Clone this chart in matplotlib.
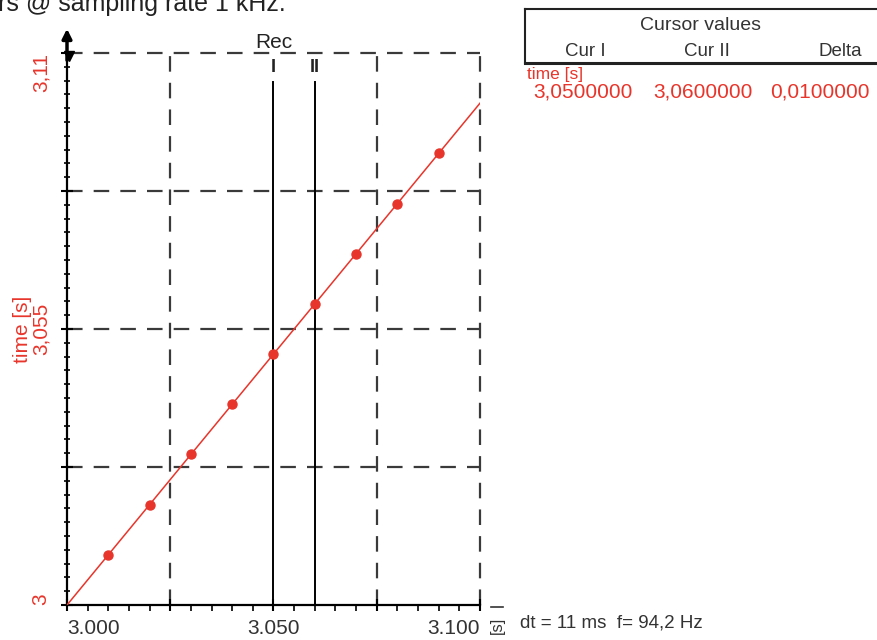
import matplotlib
matplotlib.use("Agg")
import matplotlib.pyplot as plt
from matplotlib.lines import Line2D
import numpy as np

plt.rcParams['font.family'] = ['Liberation Sans', 'DejaVu Sans']

# ---- data ----
t_x = [3.000, 3.010, 3.020, 3.030, 3.040, 3.050, 3.060, 3.070, 3.080, 3.090, 3.100]
t_y = [3.000, 3.010, 3.020, 3.030, 3.040, 3.050, 3.060, 3.070, 3.080, 3.090, 3.100]
cursor_x = [3.050, 3.060]
cursor_names = ["I", "II"]
x_ticks = [3.000, 3.025, 3.050, 3.075, 3.100]
x_ticklabels = ["3.000", "", "3.050", "", "3.100"]
y_ticks = [3.0, 3.0275, 3.055, 3.0825, 3.11]
y_ticklabels = ["3", "", "3,055", "", "3,11"]
x_grid = [3.025, 3.075, 3.100]
y_grid = [3.0275, 3.055, 3.0825, 3.11]
table_header = ["Cur I", "Cur II", "Delta"]
table_values = ["3,0500000", "3,0600000", "0,0100000"]

RED = '#e8352b'
W, H = 877, 640

fig = plt.figure(figsize=(W / 100, H / 100), dpi=100)
ax = fig.add_axes([67 / W, (H - 605) / H, (480 - 67) / W, (605 - 53) / H])
ax.set_xlim(3.0, 3.1)
ax.set_ylim(3.0, 3.11)

# grid (dashed)
for gx in x_grid:
    ax.axvline(gx, color='#3a3a3a', lw=1.6, dashes=(7, 5), clip_on=False, zorder=1)
for gy in y_grid:
    ax.axhline(gy, color='#3a3a3a', lw=1.6, dashes=(7, 5), clip_on=False, zorder=1)

# cursors
for cx, nm in zip(cursor_x, cursor_names):
    ax.axvline(cx, ymin=0, ymax=(605 - 82) / (605 - 53), color='black', lw=1.4, zorder=2)
    ax.text(cx, 3.11 - 0.11 * (67 - 53) / 552, nm, ha='center', va='center',
            fontsize=13, color='#222222', fontweight='bold')
ax.text(cursor_x[0], 3.11 + 0.11 * (53 - 43) / 552, "Rec", ha='center', va='center',
        fontsize=15, color='#222222')

# data
ax.plot(t_x, t_y, color=RED, lw=1.1, zorder=3)
ax.plot(t_x[1:-1], t_y[1:-1], 'o', color=RED, ms=6.5, zorder=4)

# spines
for s in ['top', 'right']:
    ax.spines[s].set_visible(False)
for s in ['left', 'bottom']:
    ax.spines[s].set_linewidth(1.6)
    ax.spines[s].set_color('black')

ax.set_xticks(x_ticks)
ax.set_xticklabels(x_ticklabels, fontsize=15, color='#333333')
ax.set_xticks(np.arange(3.0, 3.1001, 0.005), minor=True)
ax.tick_params(axis='x', which='major', direction='inout', length=8, width=1.5, pad=6)
ax.tick_params(axis='x', which='minor', direction='out', length=4, width=1.2)
xl = ax.get_xticklabels()
xl[0].set_ha('left')
xl[-1].set_ha('right')

ax.set_yticks(y_ticks)
ax.set_yticklabels(y_ticklabels, fontsize=15, color=RED, rotation=90)
ax.set_yticks(np.arange(3.0, 3.11001, 0.00275), minor=True)
ax.tick_params(axis='y', which='major', direction='inout', length=8, width=1.5, pad=8)
ax.tick_params(axis='y', which='minor', direction='inout', length=5, width=1.2)
yl = ax.get_yticklabels()
for lab in yl:
    lab.set_va('center')
yl[0].set_va('bottom')
yl[-1].set_va('top')

ax.set_ylabel("time [s]", color=RED, fontsize=15)
ax.yaxis.set_label_coords(-0.085, 0.5)

# arrow at top of y axis
ax.annotate('', xy=(0, 1 + 27 / 552), xytext=(0, 1 - 10 / 552), xycoords='axes fraction',
            arrowprops=dict(arrowstyle='-|>', color='black', lw=2.5, mutation_scale=14),
            annotation_clip=False)
ax.plot([0.006], [1 - 3 / 552], marker='v', color='black', ms=7, transform=ax.transAxes,
        clip_on=False)

# x unit label
fig.text(497 / W, 1 - 625 / H, "[s]", rotation=90, ha='center', va='center', fontsize=12,
         color='#333333')
fig.add_artist(Line2D([491 / W, 503 / W], [1 - 607 / H, 1 - 607 / H], color='#333333', lw=1.2))

# title fragment at top (cropped)
fig.text(-2 / W, 1 - 11 / H, "rs @ sampling rate 1 kHz.", ha='left', va='baseline',
         fontsize=18, color='#222222')

# cursor value table
fig.add_artist(Line2D([525 / W, 525 / W], [1 - 9 / H, 1 - 63 / H], color='#222222', lw=1.5))
fig.add_artist(Line2D([525 / W, 1.0], [1 - 9 / H, 1 - 9 / H], color='#222222', lw=1.5))
fig.add_artist(Line2D([525 / W, 1.0], [1 - 63 / H, 1 - 63 / H], color='#222222', lw=2.2))
fig.text(700 / W, 1 - 25 / H, "Cursor values", ha='center', va='center', fontsize=14,
         color='#333333')
for cxp, txt in zip([585, 707, 840], table_header):
    fig.text(cxp / W, 1 - 51 / H, txt, ha='center', va='center', fontsize=13.5, color='#333333')
fig.text(527 / W, 1 - 74 / H, "time [s]", ha='left', va='center', fontsize=12.5, color=RED)
for xp, txt in zip([533, 653, 770], table_values):
    fig.text(xp / W, 1 - 92 / H, txt, ha='left', va='center', fontsize=15, color=RED)

fig.text(520 / W, 1 - 623 / H, "dt = 11 ms  f= 94,2 Hz", ha='left', va='center',
         fontsize=13.5, color='#333333')

fig.savefig("out.png", dpi=100)
